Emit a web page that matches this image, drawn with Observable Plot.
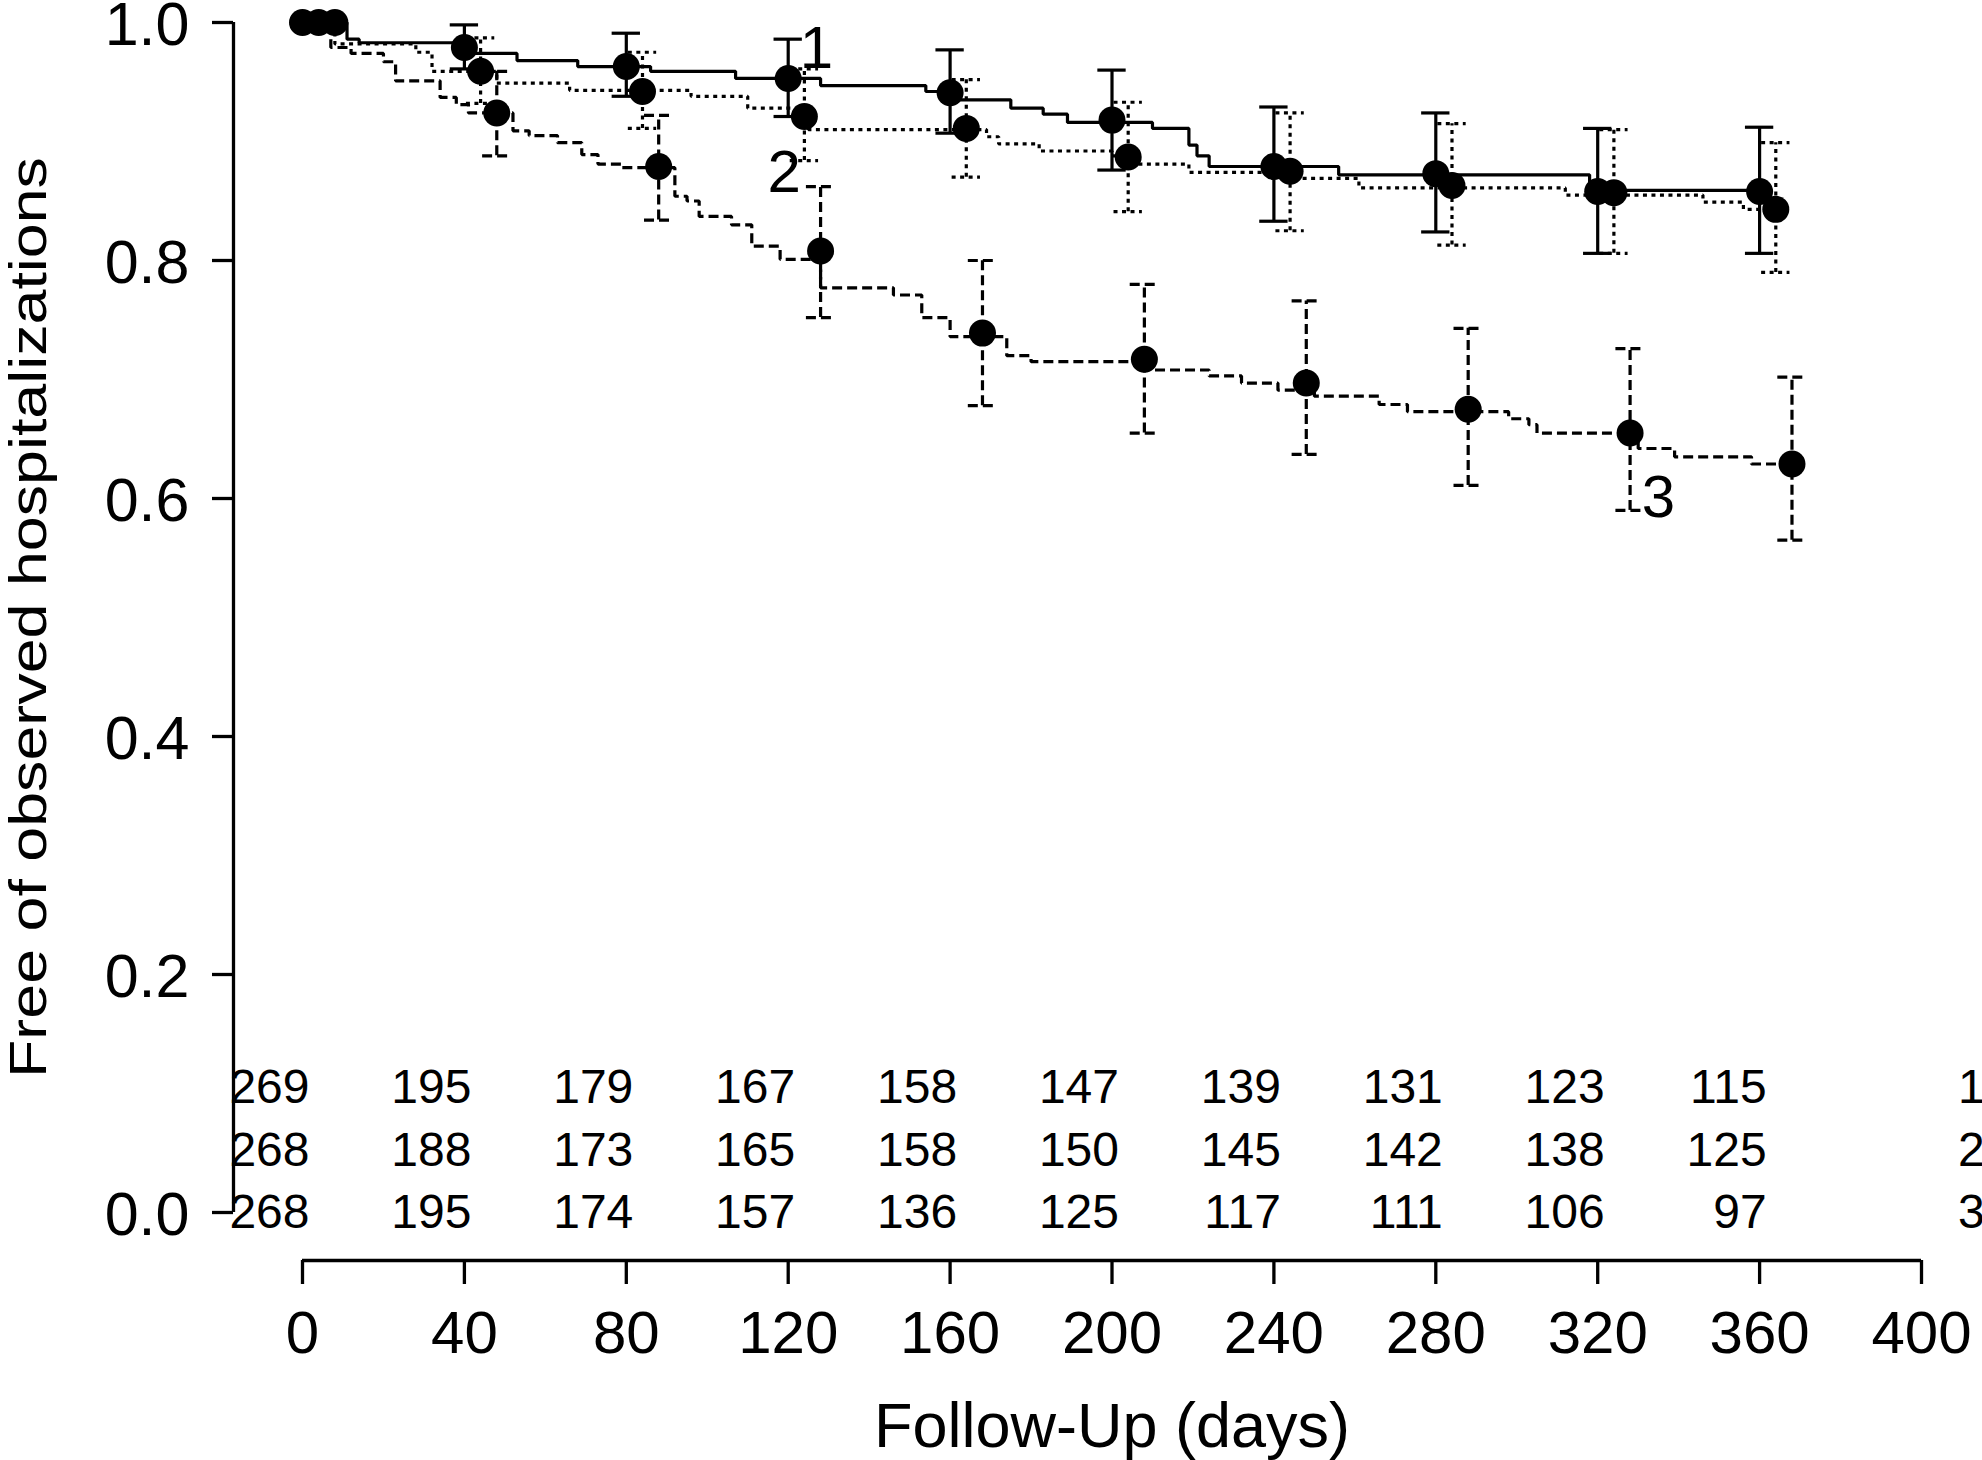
<!DOCTYPE html>
<html>
<head>
<meta charset="utf-8">
<script src="https://cdn.jsdelivr.net/npm/d3@7"></script>
<script src="https://cdn.jsdelivr.net/npm/@observablehq/plot@0.6"></script>
<style>
  html, body { margin: 0; padding: 0; background: #ffffff; }
  #chart { width: 1982px; height: 1460px; }
</style>
</head>
<body>
<div id="chart"></div>
<script>
// ---- Kaplan-Meier step curves (day, survival) ----
const stepDays1 = [0, 11, 14, 41, 53, 68, 86, 107, 128, 154, 162, 175, 183, 189, 210, 219, 221, 224, 256, 318, 362];
const stepVals1 = [1.0, 0.986, 0.983, 0.974, 0.968, 0.963, 0.959, 0.953, 0.947, 0.942, 0.935, 0.928, 0.923, 0.916, 0.911, 0.897, 0.888, 0.879, 0.872, 0.859, 0.859];

const stepDays2 = [0, 8, 28, 32, 48, 66, 96, 110, 122, 125, 169, 172, 182, 200, 206, 219, 246, 261, 312, 346, 356, 364];
const stepVals2 = [1.0, 0.982, 0.975, 0.959, 0.949, 0.943, 0.938, 0.928, 0.921, 0.910, 0.904, 0.898, 0.892, 0.888, 0.881, 0.874, 0.869, 0.861, 0.855, 0.849, 0.843, 0.843];

const stepDays3 = [0, 7, 12, 20, 23, 34, 38, 41, 52, 56, 63, 69, 73, 79, 92, 95, 98, 106, 111, 118, 128, 146, 153, 160, 174, 180, 210, 224, 232, 241, 250, 266, 273, 298, 303, 305, 330, 339, 358, 368];
const stepVals3 = [1.0, 0.979, 0.974, 0.967, 0.951, 0.937, 0.931, 0.924, 0.909, 0.905, 0.899, 0.889, 0.881, 0.878, 0.854, 0.850, 0.837, 0.830, 0.812, 0.801, 0.777, 0.771, 0.752, 0.736, 0.720, 0.715, 0.708, 0.703, 0.697, 0.691, 0.686, 0.679, 0.673, 0.667, 0.662, 0.655, 0.642, 0.635, 0.629, 0.629];

// ---- Marked estimates with confidence limits ----
const pointDays1  = [0, 40, 80, 120, 160, 200, 240, 280, 320, 360];
const pointVals1  = [1.0, 0.979, 0.963, 0.953, 0.941, 0.918, 0.879, 0.873, 0.858, 0.858];
const pointUpper1 = [1.0, 0.998, 0.991, 0.986, 0.977, 0.960, 0.929, 0.924, 0.911, 0.912];
const pointLower1 = [1.0, 0.961, 0.938, 0.921, 0.907, 0.876, 0.833, 0.824, 0.806, 0.806];

const pointDays2  = [4, 44, 84, 124, 164, 204, 244, 284, 324, 364];
const pointVals2  = [1.0, 0.959, 0.942, 0.921, 0.911, 0.887, 0.875, 0.863, 0.857, 0.843];
const pointUpper2 = [1.0, 0.987, 0.975, 0.961, 0.952, 0.933, 0.924, 0.915, 0.910, 0.899];
const pointLower2 = [1.0, 0.932, 0.911, 0.884, 0.870, 0.841, 0.825, 0.813, 0.806, 0.790];

const pointDays3  = [8, 48, 88, 128, 168, 208, 248, 288, 328, 368];
const pointVals3  = [1.0, 0.924, 0.879, 0.808, 0.739, 0.717, 0.697, 0.675, 0.655, 0.629];
const pointUpper3 = [1.0, 0.959, 0.922, 0.862, 0.800, 0.780, 0.766, 0.743, 0.726, 0.702];
const pointLower3 = [1.0, 0.888, 0.834, 0.752, 0.678, 0.655, 0.637, 0.611, 0.590, 0.565];

// ---- Curve labels ----
const curveLabels    = ["1", "2", "3"];
const curveLabelDays = [127, 119, 335];
const curveLabelVals = [0.978, 0.874, 0.601];

// ---- Numbers at risk ----
const atRiskDays = [0, 40, 80, 120, 160, 200, 240, 280, 320, 360];
const atRisk1 = [269, 195, 179, 167, 158, 147, 139, 131, 123, 115];
const atRisk2 = [268, 188, 173, 165, 158, 150, 145, 142, 138, 125];
const atRisk3 = [268, 195, 174, 157, 136, 125, 117, 111, 106, 97];
const atRiskRowY = [0.105, 0.052, 0.0];
const atRiskGroupLabels = ["1", "2", "3"];
const atRiskGroupLabelDay = 409;

// ---- Axes ----
const xDomain = [0, 400];
const yDomain = [0, 1];
const xTicks = [0, 40, 80, 120, 160, 200, 240, 280, 320, 360, 400];
const yTicks = [0, 0.2, 0.4, 0.6, 0.8, 1.0];
const xTitle = "Follow-Up (days)";
const yTitle = "Free of observed hospitalizations";

// ---- Build tables ----
const FONT = '"Liberation Sans", Arial, Helvetica, sans-serif';
const dashes = [null, "4,4.5", "10,5"];
const LW = 3.2;
const CAP = 3.5; // cap half-width in days
const Y_TITLE_LEN = 921;   // px length of the rotated y title
const Y_PX_PER_UNIT = 1190; // y range height (1212 - 22)

const curves = [
  stepDays1.map((d, i) => ({day: d, surv: stepVals1[i]})),
  stepDays2.map((d, i) => ({day: d, surv: stepVals2[i]})),
  stepDays3.map((d, i) => ({day: d, surv: stepVals3[i]}))
];
const pointsets = [
  pointDays1.map((d, i) => ({day: d, surv: pointVals1[i], upper: pointUpper1[i], lower: pointLower1[i]})),
  pointDays2.map((d, i) => ({day: d, surv: pointVals2[i], upper: pointUpper2[i], lower: pointLower2[i]})),
  pointDays3.map((d, i) => ({day: d, surv: pointVals3[i], upper: pointUpper3[i], lower: pointLower3[i]}))
];
const atRiskRows = [atRisk1, atRisk2, atRisk3];
const atRiskTable = [];
atRiskRows.forEach((row, g) => row.forEach((n, i) => atRiskTable.push({day: atRiskDays[i], row: atRiskRowY[g], n: String(n)})));
const atRiskLabelTable = atRiskGroupLabels.map((t, g) => ({day: atRiskGroupLabelDay, row: atRiskRowY[g], t}));
const curveLabelTable = curveLabels.map((t, i) => ({day: curveLabelDays[i], surv: curveLabelVals[i], t}));

const lineStyle = (g) => {
  const s = {stroke: "black", strokeWidth: LW, strokeLinecap: "butt", strokeLinejoin: "miter"};
  if (dashes[g]) s.strokeDasharray = dashes[g];
  return s;
};

const marks = [];
// axis lines
marks.push(Plot.ruleX([xDomain[0]], {y1: yDomain[0], y2: yDomain[1], dx: -69, stroke: "black", strokeWidth: 3.3}));
marks.push(Plot.ruleY([yDomain[0]], {x1: xDomain[0], x2: xDomain[1], dy: 48, stroke: "black", strokeWidth: 3.3}));
// axes
marks.push(Plot.axisX({ticks: xTicks, tickSize: 24, tickPadding: 26, fontSize: 60, strokeWidth: 3.3, stroke: "black", fill: "black", label: null, tickFormat: d => String(d)}));
marks.push(Plot.axisY({ticks: yTicks, tickSize: 21, strokeWidth: 3.3, stroke: "black", label: null, tickFormat: () => ""}));
marks.push(Plot.axisY({ticks: yTicks, tickSize: 0, tickPadding: 44, dy: 3, fontSize: 61, fill: "black", label: null, tickFormat: d3.format(".1f")}));

// curves, error bars
curves.forEach((c, g) => {
  marks.push(Plot.line(c, {x: "day", y: "surv", curve: "step-after", ...lineStyle(g)}));
  const pts = pointsets[g].filter(d => d.upper > d.lower);
  marks.push(Plot.ruleX(pts, {x: "day", y1: "lower", y2: "upper", ...lineStyle(g)}));
  marks.push(Plot.ruleY(pts, {y: "upper", x1: d => d.day - CAP, x2: d => d.day + CAP, ...lineStyle(g)}));
  marks.push(Plot.ruleY(pts, {y: "lower", x1: d => d.day - CAP, x2: d => d.day + CAP, ...lineStyle(g)}));
});
pointsets.forEach((p) => {
  marks.push(Plot.dot(p, {x: "day", y: "surv", r: 13.5, fill: "black", stroke: "none"}));
});

// curve labels
marks.push(Plot.text(curveLabelTable, {x: "day", y: "surv", text: "t", fontSize: 60, fill: "black"}));

// numbers at risk
marks.push(Plot.text(atRiskTable, {x: "day", y: "row", text: "n", textAnchor: "end", dx: 7, fontSize: 48, fill: "black"}));
marks.push(Plot.text(atRiskLabelTable, {x: "day", y: "row", text: "t", textAnchor: "start", fontSize: 48, fill: "black"}));

// axis titles
marks.push(Plot.text([{t: xTitle, day: (xDomain[0] + xDomain[1]) / 2}], {
  x: "day", text: "t", frameAnchor: "bottom", lineAnchor: "middle", textAnchor: "middle",
  dy: 166.5, fontSize: 63, fill: "black"
}));
const yMid = (yDomain[0] + yDomain[1]) / 2;
marks.push(Plot.text([{t: yTitle, surv: yMid - (Y_TITLE_LEN / 2) / Y_PX_PER_UNIT}], {
  y: "surv", text: "t", frameAnchor: "left", textAnchor: "start", lineAnchor: "middle",
  rotate: -90, dx: -204.6, fontSize: 52, fill: "black"
}));

const chart = Plot.plot({
  width: 1982,
  height: 1460,
  marginLeft: 233,
  insetLeft: 69,
  marginRight: 61,
  insetRight: 0,
  marginTop: 22,
  insetTop: 0,
  marginBottom: 200,
  insetBottom: 48,
  style: {fontFamily: FONT, color: "black", background: "white", overflow: "visible"},
  x: {domain: xDomain},
  y: {domain: yDomain},
  marks
});

// stretch y title to the reference's length
d3.select(chart).selectAll("text")
  .filter(function() { return this.textContent === yTitle; })
  .attr("textLength", Y_TITLE_LEN)
  .attr("lengthAdjust", "spacingAndGlyphs");

document.getElementById("chart").appendChild(chart);
</script>
</body>
</html>
